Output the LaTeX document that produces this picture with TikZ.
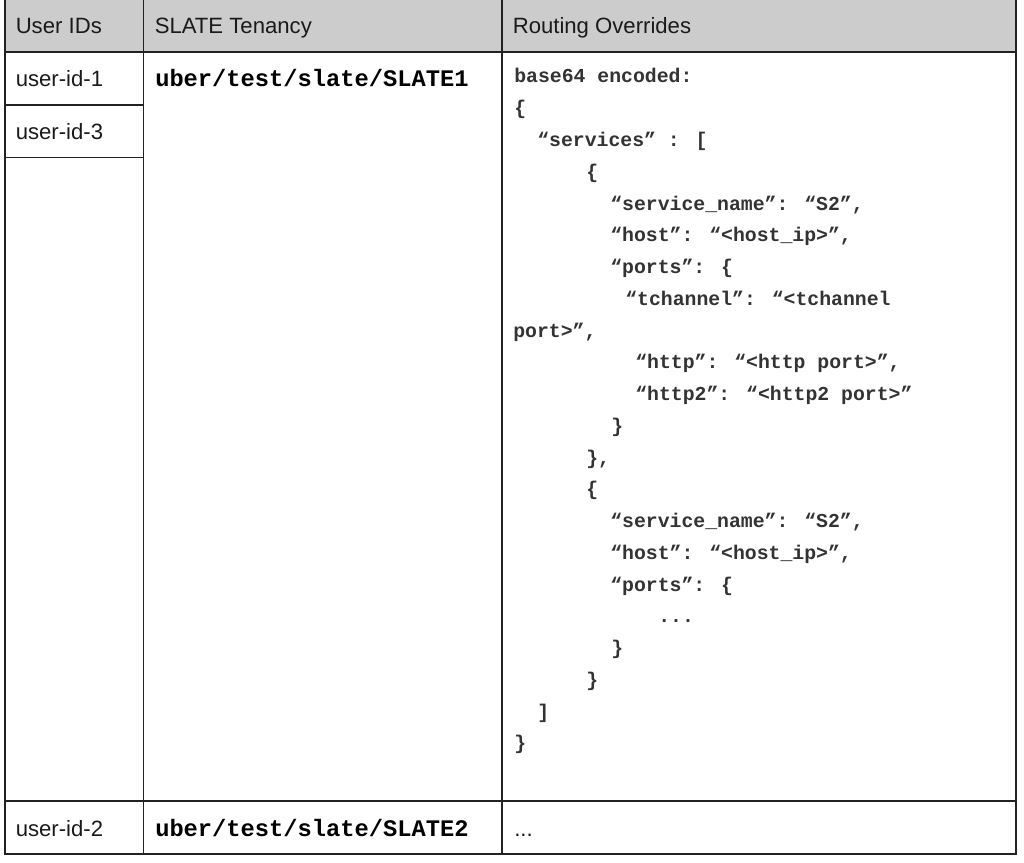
\documentclass[tikz,border=0pt]{standalone}
\usepackage{fontspec}
\setmainfont{Liberation Sans}
\newfontfamily\codefont{Liberation Mono}
\definecolor{headfill}{HTML}{CCCCCC}
\definecolor{linecol}{HTML}{222222}
\definecolor{txtcol}{HTML}{1A1A1A}
\definecolor{codecol}{HTML}{333333}
\begin{document}
\begin{tikzpicture}[x=0.75pt,y=-0.75pt,
  sanslabel/.style={anchor=base west, inner sep=0pt, font=\fontsize{16.6}{19}\selectfont, text=txtcol},
  tenancy/.style={anchor=base west, inner sep=0pt, font=\codefont\bfseries\fontsize{17.8}{20}\selectfont, text=black},
  codeline/.style={anchor=base west, inner sep=0pt, font=\codefont\bfseries\fontsize{14.85}{18}\selectfont, text=codecol},
  gridline/.style={draw=linecol, line width=1.2pt},
  outerline/.style={draw=linecol, line width=1.5pt},
  headline/.style={draw=linecol, line width=1.9pt}]
\useasboundingbox (0,0) rectangle (1024,863);
% header background
\fill[headfill] (4.5,-5) rectangle (1015.7,52);
% grid
\draw[gridline] (143.5,-5) -- (143.5,853.7);
\draw[gridline] (501.7,-5) -- (501.7,853.7);
\draw[gridline] (4.5,105) -- (143.5,105);
\draw[gridline] (4.5,157.5) -- (143.5,157.5);
\draw[gridline] (4.5,801) -- (1015.7,801);
\draw[headline] (4.5,52) -- (1015.7,52);
\draw[outerline] (4.5,-5) rectangle (1015.7,853.7);
% header
\node[sanslabel] (h1) at (15.5,33.3) {User IDs};
\node[sanslabel] (h2) at (154.5,33.3) {SLATE Tenancy};
\node[sanslabel] (h3) at (512.5,33.3) {Routing Overrides};
% user ids
\node[sanslabel] (u1) at (15.5,87) {user-id-1};
\node[sanslabel] (u3) at (15.5,140) {user-id-3};
\node[sanslabel] (u2) at (15.5,836) {user-id-2};
% tenancy
\node[tenancy] (t1) at (155,87) {uber/test/slate/SLATE1};
\node[tenancy] (t2) at (155,836) {uber/test/slate/SLATE2};
\node[sanslabel] (dots) at (514,836) {...};
% code
\node[codeline] (c0) at (514,83) {base64 encoded:};
\node[codeline] (c1) at (514,114.75) {\{};
\node[codeline] (c2) at (537,146.5) {“services” : [};
\node[codeline] (c3) at (586,178.25) {\{};
\node[codeline] (c4) at (610,210) {“service\_name”: “S2”,};
\node[codeline] (c5) at (610,241.75) {“host”: “<host\_ip>”,};
\node[codeline] (c6) at (610,273.5) {“ports”: \{};
\node[codeline] (c7) at (625,305.25) {“tchannel”: “<tchannel};
\node[codeline] (c8) at (513,337) {port>”,};
\node[codeline] (c9) at (635,368.75) {“http”: “<http port>”,};
\node[codeline] (c10) at (635,400.5) {“http2”: “<http2 port>”};
\node[codeline] (c11) at (611,432.25) {\}};
\node[codeline] (c12) at (586,464) {\},};
\node[codeline] (c13) at (586,495.75) {\{};
\node[codeline] (c14) at (610,527.5) {“service\_name”: “S2”,};
\node[codeline] (c15) at (610,559.25) {“host”: “<host\_ip>”,};
\node[codeline] (c16) at (610,591) {“ports”: \{};
\node[codeline] (c17) at (658,622.75) {...};
\node[codeline] (c18) at (611,654.5) {\}};
\node[codeline] (c19) at (586,686.25) {\}};
\node[codeline] (c20) at (537,718) {]};
\node[codeline] (c21) at (514,749.75) {\}};
\end{tikzpicture}
\end{document}
